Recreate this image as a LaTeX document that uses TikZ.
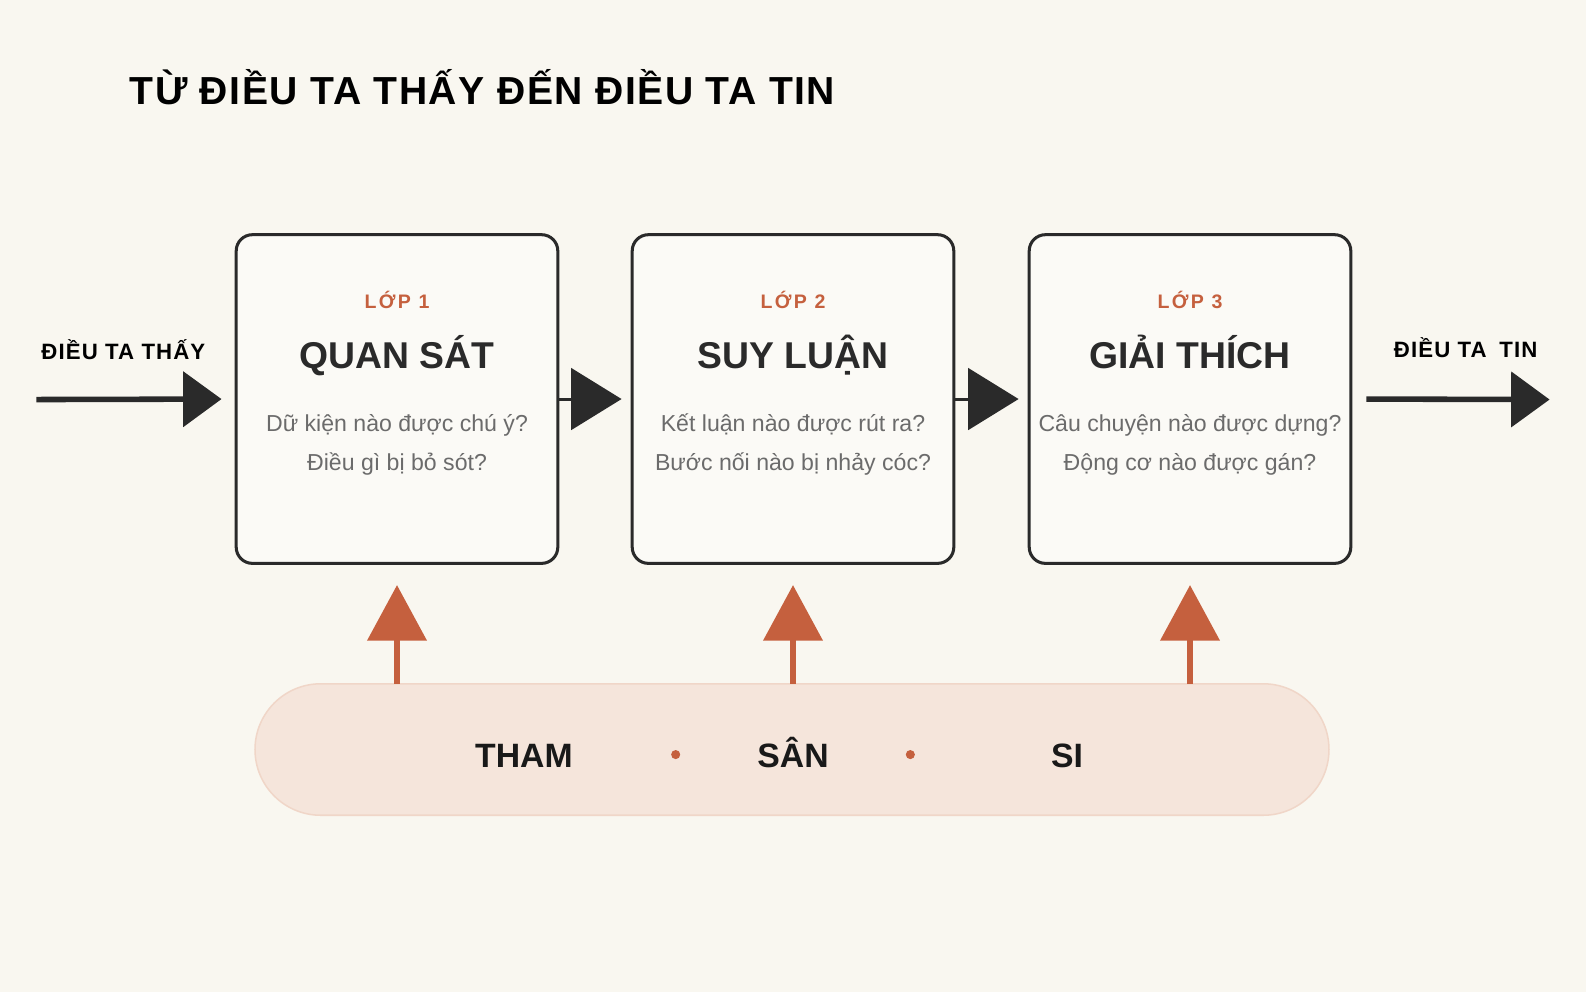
\documentclass[tikz,border=0pt]{standalone}
\usepackage{fontspec}
\setmainfont{Liberation Sans}
\usetikzlibrary{arrows.meta, positioning}
\definecolor{bgcream}{HTML}{F9F7F0}
\definecolor{boxfill}{HTML}{FBFAF6}
\definecolor{inkdark}{HTML}{2A2A2A}
\definecolor{rust}{HTML}{C5603E}
\definecolor{pillfill}{HTML}{F5E5DB}
\definecolor{pillline}{HTML}{F0D6C8}
\definecolor{bodygray}{HTML}{6B6B6B}
\tikzset{
  layerbox/.style={draw=inkdark, fill=boxfill, line width=0.06cm, rounded corners=0.32cm,
    minimum width=6.36cm, minimum height=6.5cm},
  layertag/.style={anchor=base, text=rust, font=\fontsize{11}{13}\selectfont\bfseries\addfontfeatures{LetterSpace=12}},
  layername/.style={anchor=base, text=inkdark, font=\fontsize{21}{25}\selectfont\bfseries},
  layerq/.style={anchor=base, align=center, text=bodygray, font=\fontsize{13}{21.6}\selectfont},
  sidelabel/.style={anchor=base, text=black, font=\fontsize{12.5}{15}\selectfont\bfseries\addfontfeatures{LetterSpace=5}},
  flowarrow/.style={draw=inkdark, line width=0.11cm, -{Triangle[length=0.76cm, width=1.08cm]}},
  steparrow/.style={draw=inkdark, line width=0.06cm, -{Triangle[length=1.0cm, width=1.22cm]}},
  rootarrow/.style={draw=rust, line width=0.11cm, -{Triangle[length=1.1cm, width=1.16cm]}},
  rootword/.style={anchor=base, text=black!90, font=\fontsize{19}{23}\selectfont\bfseries},
}

\begin{document}
\begin{tikzpicture}[x=0.02cm, y=-0.02cm]
  \useasboundingbox (0, 0) rectangle (1568, 981);
  \fill[bgcream] (0, 0) rectangle (1568, 981);

  % Title
  \node[anchor=base west, text=black, font=\fontsize{22}{26}\selectfont\bfseries\addfontfeatures{LetterSpace=4}] (title) at (122, 103) {TỪ ĐIỀU TA THẤY ĐẾN ĐIỀU TA TIN};

  % Layer boxes
  \node[layerbox] (obs) at (392.5, 394.5) {};
  \node[layerbox] (inf) at (784, 394.5) {};
  \node[layerbox] (expl) at (1176.5, 394.5) {};

  % Layer 1
  \node[layertag] (obstag) at (392.5, 305) {LỚP 1};
  \node[layername] (obsname) at (392.5, 364) {QUAN SÁT};
  \node[layerq] (obsq) at (392.5, 465) {Dữ kiện nào được chú ý?\\Điều gì bị bỏ sót?};

  % Layer 2
  \node[layertag] (inftag) at (784, 305) {LỚP 2};
  \node[layername] (infname) at (784, 364) {SUY LUẬN};
  \node[layerq] (infq) at (784, 465) {Kết luận nào được rút ra?\\Bước nối nào bị nhảy cóc?};

  % Layer 3
  \node[layertag] (expltag) at (1176.5, 305) {LỚP 3};
  \node[layername] (explname) at (1176.5, 364) {GIẢI THÍCH};
  \node[layerq] (explq) at (1176.5, 465) {Câu chuyện nào được dựng?\\Động cơ nào được gán?};

  % In and out
  \node[sidelabel] (seen) at (122, 355) {ĐIỀU TA THẤY};
  \node[sidelabel] (believed) at (1449, 353) {ĐIỀU TA\hspace{3pt} TIN};
  \coordinate (start) at (36, 395);
  \coordinate (finish) at (1532, 395);

  \draw[flowarrow, shorten >=0.26cm] (start) -- (obs.west);
  \draw[steparrow, shorten >=0.18cm] (obs.east) -- (inf.west);
  \draw[steparrow, shorten >=0.18cm] (inf.east) -- (expl.west);
  \draw[flowarrow, shorten <=0.28cm] (expl.east) -- (finish);

  % Roots
  \node[draw=pillline, fill=pillfill, line width=0.03cm, rounded corners=1.3cm,
    minimum width=21.24cm, minimum height=2.6cm] (roots) at (783, 741) {};
  \node[rootword] (greed) at (518, 759) {THAM};
  \node[rootword] (anger) at (784, 759) {SÂN};
  \node[rootword] (delusion) at (1055, 759) {SI};
  \fill[rust] (668, 746) circle (0.09cm);
  \fill[rust] (900, 746) circle (0.09cm);

  \coordinate (obsroot) at (392.5, 676);
  \coordinate (infroot) at (784, 676);
  \coordinate (explroot) at (1176.5, 676);
  \draw[rootarrow, shorten >=0.4cm] (obsroot) -- (obs.south);
  \draw[rootarrow, shorten >=0.4cm] (infroot) -- (inf.south);
  \draw[rootarrow, shorten >=0.4cm] (explroot) -- (expl.south);
\end{tikzpicture}
\end{document}
